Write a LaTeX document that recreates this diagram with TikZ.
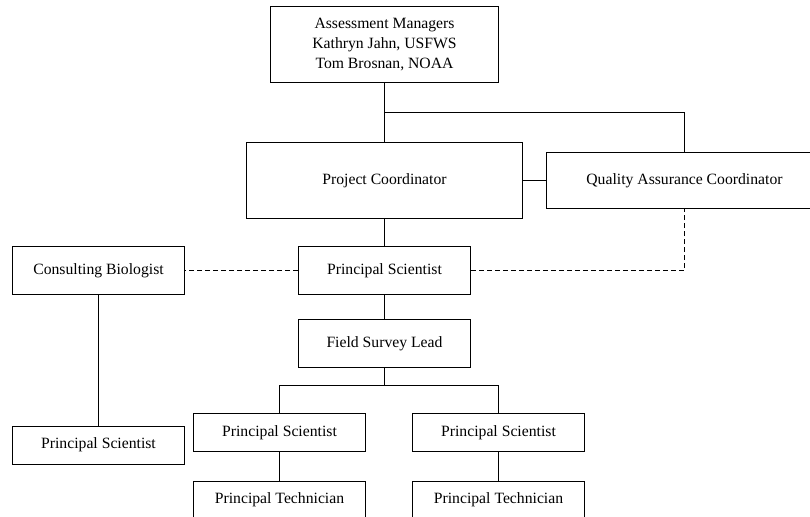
\documentclass[tikz,border=0pt]{standalone}
\usepackage{fontspec}
\setmainfont{Liberation Serif}
\begin{document}
\begin{tikzpicture}[x=1pt, y=-1pt, line width=1pt,
    every node/.style={draw, inner sep=0pt, align=center, font=\fontsize{15.7}{20}\selectfont},
    role/.style={minimum width=172pt, minimum height=48pt},
    low/.style={minimum width=172pt, minimum height=38pt},
    link/.style={dash pattern=on 5pt off 3pt}]
            \useasboundingbox (0,0) rectangle (810,516);
            \node [minimum width=228pt, minimum height=76pt] (am) at (384.5,45) {Assessment Managers\\Kathryn Jahn, USFWS\\Tom Brosnan, NOAA};
            \node [minimum width=276pt, minimum height=76pt] (pc) at (384.5,180.5) {Project Coordinator};
            \node [minimum width=276pt, minimum height=56pt] (qa) at (684.5,180.5) {Quality Assurance Coordinator};
            \node [role] (ps) at (384.5,270.5) {Principal Scientist};
            \node [role] (cb) at (98.5,270.5) {Consulting Biologist};
            \node [role] (fsl) at (384.5,343.5) {Field Survey Lead};
            \node [low] (psl) at (279.5,432.5) {Principal Scientist};
            \node [low] (psr) at (498.5,432.5) {Principal Scientist};
            \node [low] (psb) at (98.5,445) {Principal Scientist};
            \node [low] (ptl) at (279.5,500) {Principal Technician};
            \node [low] (ptr) at (498.5,500) {Principal Technician};
            \coordinate (am split) at (384.5,112.5);
            \coordinate (fsl split) at (384.5,385.5);
            \path (am) edge (pc);
            \draw (am split) -| (qa);
            \path (pc) edge (qa);
            \path (pc) edge (ps);
            \path[link] (ps) edge (cb);
            \draw[link] (ps) -| (qa);
            \path (cb) edge (psb);
            \path (ps) edge (fsl);
            \draw (fsl) -- (fsl split) (psl) |- (fsl split) -| (psr);
            \path (psl) edge (ptl);
            \path (psr) edge (ptr);
        \end{tikzpicture}
\end{document}
